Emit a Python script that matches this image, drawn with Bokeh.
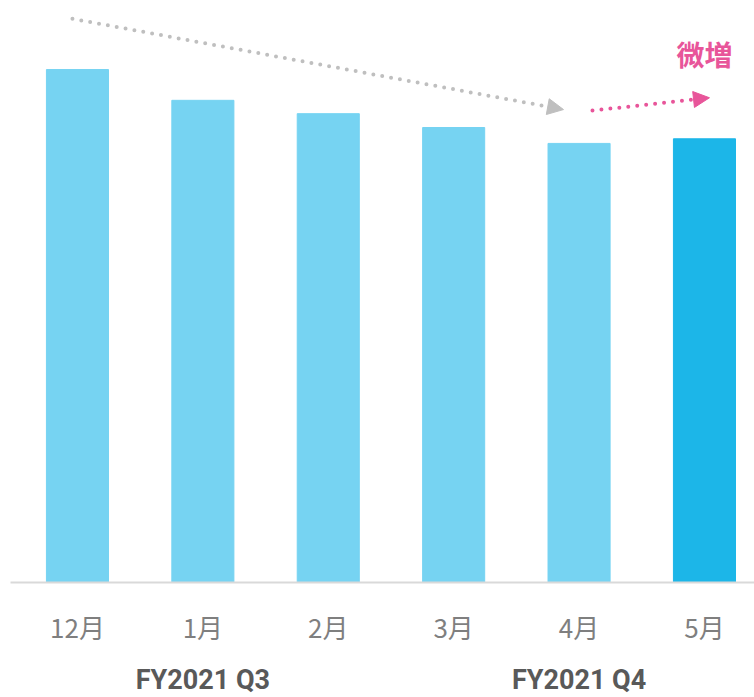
from bokeh.plotting import figure
from bokeh.models import (ColumnDataSource, Range1d, FixedTicker, LinearAxis,
                          Arrow, NormalHead, Label)
from bokeh.embed import file_html
from bokeh.resources import INLINE

months = ["12月", "1月", "2月", "3月", "4月", "5月"]
values = [100.0, 94.0, 91.4, 88.7, 85.6, 86.5]
bar_colors = ["#76D3F2", "#76D3F2", "#76D3F2", "#76D3F2", "#76D3F2", "#1CB6E8"]
groups = ["FY2021 Q3", "FY2021 Q4"]
group_members = [[0, 1, 2], [3, 4, 5]]
note_text = "微増"

xs = list(range(len(months)))
src = ColumnDataSource(dict(x=xs, top=values, color=bar_colors))

p = figure(frame_width=744, frame_height=574, output_backend="svg",
           toolbar_location=None, y_axis_location=None, x_axis_location="below",
           x_range=Range1d(-0.534, 5.399), y_range=Range1d(0, 111.9),
           min_border_left=10, min_border_right=0, min_border_top=8,
           min_border_bottom=115)
p.outline_line_color = None
p.grid.visible = False
p.background_fill_color = "white"
p.border_fill_color = "white"

p.vbar(x="x", top="top", width=0.495, color="color", source=src)

ax = p.xaxis[0]
ax.ticker = FixedTicker(ticks=xs)
ax.major_label_overrides = {i: m for i, m in enumerate(months)}
ax.axis_line_color = "#D9D9D9"
ax.axis_line_width = 2
ax.major_tick_line_color = None
ax.minor_tick_line_color = None
ax.major_label_text_font = "Noto Sans CJK JP"
ax.major_label_text_font_size = "26px"
ax.major_label_text_color = "#7F7F7F"
ax.major_label_standoff = 19

gpos = [sum(g) / len(g) for g in group_members]
ax2 = LinearAxis(ticker=FixedTicker(ticks=gpos),
                 major_label_overrides={gp: g for gp, g in zip(gpos, groups)})
ax2.axis_line_color = None
ax2.major_tick_line_color = None
ax2.minor_tick_line_color = None
ax2.major_label_text_font = "Roboto"
ax2.major_label_text_font_style = "bold"
ax2.major_label_text_font_size = "27px"
ax2.major_label_text_color = "#595959"
ax2.major_label_standoff = 10
p.add_layout(ax2, "below")

gray = "#BFBFBF"
pink = "#E8559A"
p.add_layout(Arrow(end=NormalHead(size=16, fill_color=gray, line_color=gray),
                   x_start=-0.04, y_start=109.9, x_end=3.876, y_end=92.2,
                   line_color=gray, line_width=4, line_dash="0 9",
                   line_cap="round"))
p.add_layout(Arrow(end=NormalHead(size=16, fill_color=pink, line_color=pink),
                   x_start=4.107, y_start=92.0, x_end=5.04, y_end=94.5,
                   line_color=pink, line_width=4, line_dash="0 9",
                   line_cap="round"))
p.add_layout(Label(x=5, y=103.1, text=note_text, text_align="center",
                   text_baseline="middle", text_color=pink,
                   text_font="Noto Sans CJK JP", text_font_style="bold",
                   text_font_size="28px"))

open("out.html", "w").write(file_html(p, INLINE))
